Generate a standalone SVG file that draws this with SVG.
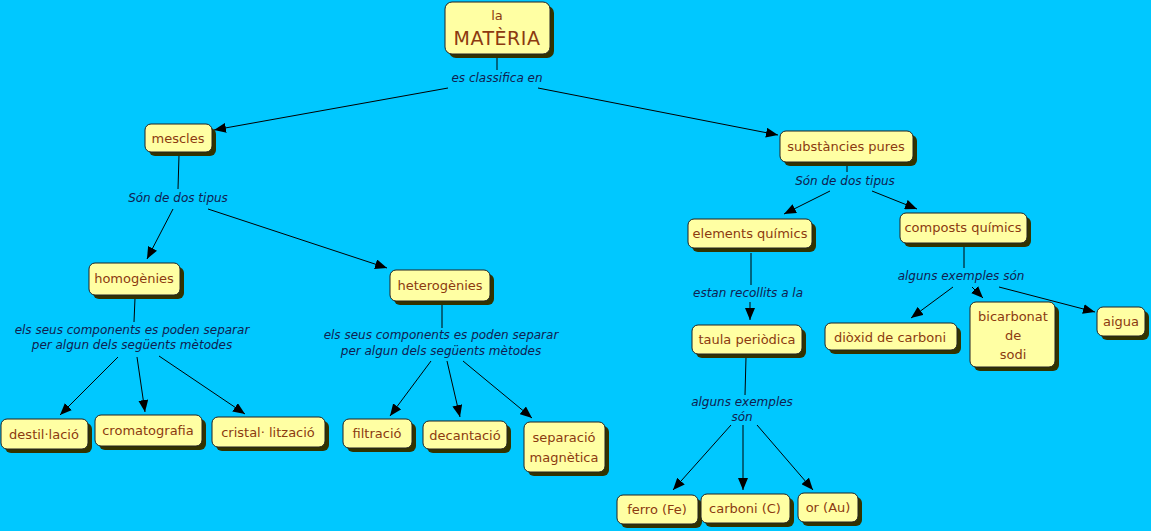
<svg xmlns="http://www.w3.org/2000/svg" width="1151" height="531" viewBox="0 0 1151 531">
<defs>
<marker id="ah" viewBox="0 0 12 10" refX="12" refY="5" markerWidth="12" markerHeight="10" markerUnits="userSpaceOnUse" orient="auto"><path d="M0,0 L12,5 L0,10 Z" fill="#000"/></marker>
<style>
.sh{fill:#333300}
.bx{fill:#FFFFA3;stroke:#222;stroke-width:1}
.t{font-family:"DejaVu Sans",Verdana,sans-serif;font-size:13px;fill:#8B3A10;text-anchor:middle}
.l{font-family:"DejaVu Sans",Verdana,sans-serif;font-size:12px;font-style:italic;fill:#102050;text-anchor:middle}
.c{stroke:#000;stroke-width:1;fill:none}
.a{stroke:#000;stroke-width:1;fill:none;marker-end:url(#ah)}
</style>
</defs>
<rect width="1151" height="531" fill="#00C8FF"/>
<g id="connectors">
<line class="c" x1="497" y1="55" x2="497" y2="70"/>
<line class="a" x1="448" y1="88" x2="214" y2="130"/>
<line class="a" x1="538" y1="88" x2="778" y2="135"/>
<line class="c" x1="179" y1="155" x2="178" y2="189"/>
<line class="a" x1="173" y1="209" x2="147" y2="259"/>
<line class="a" x1="208" y1="209" x2="387" y2="268"/>
<line class="c" x1="135" y1="298" x2="134" y2="322"/>
<line class="a" x1="118" y1="357" x2="60" y2="415"/>
<line class="a" x1="137" y1="357" x2="145" y2="412"/>
<line class="a" x1="159" y1="356" x2="245" y2="414"/>
<line class="c" x1="442" y1="305" x2="442" y2="328"/>
<line class="a" x1="431" y1="361" x2="390" y2="416"/>
<line class="a" x1="447" y1="361" x2="460" y2="417"/>
<line class="a" x1="463" y1="361" x2="532" y2="418"/>
<line class="c" x1="847" y1="165" x2="847" y2="172"/>
<line class="a" x1="830" y1="191" x2="784" y2="214"/>
<line class="a" x1="872" y1="191" x2="917" y2="209"/>
<line class="c" x1="751" y1="253" x2="751" y2="285"/>
<line class="a" x1="750" y1="302" x2="750" y2="320"/>
<line class="c" x1="964" y1="247" x2="964" y2="268"/>
<line class="a" x1="953" y1="287" x2="911" y2="318"/>
<line class="a" x1="972" y1="287" x2="983" y2="298"/>
<line class="a" x1="999" y1="287" x2="1095" y2="312"/>
<line class="c" x1="746" y1="357" x2="745" y2="395"/>
<line class="a" x1="731" y1="425" x2="673" y2="490"/>
<line class="a" x1="743" y1="425" x2="743" y2="490"/>
<line class="a" x1="757" y1="425" x2="813" y2="490"/>
</g>
<g id="labels">
<text class="l" x="497" y="82">es classifica en</text>
<text class="l" x="178" y="202">Són de dos tipus</text>
<text class="l" x="132" y="334">els seus components es poden separar</text>
<text class="l" x="132" y="349">per algun dels següents mètodes</text>
<text class="l" x="441" y="339">els seus components es poden separar</text>
<text class="l" x="441" y="355">per algun dels següents mètodes</text>
<text class="l" x="845" y="185">Són de dos tipus</text>
<text class="l" x="748" y="297">estan recollits a la</text>
<text class="l" x="961" y="280">alguns exemples són</text>
<text class="l" x="742" y="406">alguns exemples</text>
<text class="l" x="742" y="421">són</text>
</g>
<g id="n-materia"><rect class="sh" x="449" y="6" width="105" height="52" rx="7"/><rect class="bx" x="445" y="2" width="105" height="52" rx="7"/><text class="t" x="497" y="20">la</text><text class="t" x="497" y="45" style="font-size:19px;letter-spacing:0.5px">MATÈRIA</text></g>
<g id="n-mescles"><rect class="sh" x="149" y="128" width="67" height="28" rx="6"/><rect class="bx" x="145" y="124" width="67" height="28" rx="6"/><text class="t" x="178" y="143">mescles</text></g>
<g id="n-substancies"><rect class="sh" x="784" y="135" width="133" height="31" rx="6"/><rect class="bx" x="780" y="131" width="133" height="31" rx="6"/><text class="t" x="846" y="151">substàncies pures</text></g>
<g id="n-homogenies"><rect class="sh" x="93" y="267" width="91" height="32" rx="6"/><rect class="bx" x="89" y="263" width="91" height="32" rx="6"/><text class="t" x="134" y="283">homogènies</text></g>
<g id="n-heterogenies"><rect class="sh" x="394" y="274" width="100" height="31" rx="6"/><rect class="bx" x="390" y="270" width="100" height="31" rx="6"/><text class="t" x="440" y="290">heterogènies</text></g>
<g id="n-destil"><rect class="sh" x="5" y="423" width="87" height="30" rx="6"/><rect class="bx" x="1" y="419" width="87" height="30" rx="6"/><text class="t" x="44" y="439">destil·lació</text></g>
<g id="n-cromato"><rect class="sh" x="99" y="419" width="107" height="31" rx="6"/><rect class="bx" x="95" y="415" width="107" height="31" rx="6"/><text class="t" x="148" y="435">cromatografia</text></g>
<g id="n-cristal"><rect class="sh" x="216" y="421" width="113" height="30" rx="6"/><rect class="bx" x="212" y="417" width="113" height="30" rx="6"/><text class="t" x="268" y="437">cristal· lització</text></g>
<g id="n-filtracio"><rect class="sh" x="347" y="423" width="69" height="29" rx="6"/><rect class="bx" x="343" y="419" width="69" height="29" rx="6"/><text class="t" x="377" y="438">filtració</text></g>
<g id="n-decantacio"><rect class="sh" x="427" y="425" width="84" height="28" rx="6"/><rect class="bx" x="423" y="421" width="84" height="28" rx="6"/><text class="t" x="465" y="440">decantació</text></g>
<g id="n-separacio"><rect class="sh" x="528" y="426" width="81" height="50" rx="6"/><rect class="bx" x="524" y="422" width="81" height="50" rx="6"/><text class="t" x="564" y="442">separació</text><text class="t" x="564" y="462">magnètica</text></g>
<g id="n-elements"><rect class="sh" x="692" y="223" width="124" height="29" rx="6"/><rect class="bx" x="688" y="219" width="124" height="29" rx="6"/><text class="t" x="750" y="238">elements químics</text></g>
<g id="n-composts"><rect class="sh" x="904" y="217" width="127" height="30" rx="6"/><rect class="bx" x="900" y="213" width="127" height="30" rx="6"/><text class="t" x="963" y="232">composts químics</text></g>
<g id="n-taula"><rect class="sh" x="696" y="329" width="110" height="29" rx="6"/><rect class="bx" x="692" y="325" width="110" height="29" rx="6"/><text class="t" x="747" y="344">taula periòdica</text></g>
<g id="n-dioxid"><rect class="sh" x="829" y="327" width="132" height="27" rx="6"/><rect class="bx" x="825" y="323" width="132" height="27" rx="6"/><text class="t" x="890" y="342">diòxid de carboni</text></g>
<g id="n-bicarbonat"><rect class="sh" x="974" y="306" width="85" height="65" rx="6"/><rect class="bx" x="970" y="302" width="85" height="65" rx="6"/><text class="t" x="1013" y="321">bicarbonat</text><text class="t" x="1013" y="340">de</text><text class="t" x="1013" y="359">sodi</text></g>
<g id="n-aigua"><rect class="sh" x="1101" y="311" width="48" height="29" rx="6"/><rect class="bx" x="1097" y="307" width="48" height="29" rx="6"/><text class="t" x="1121" y="326">aigua</text></g>
<g id="n-ferro"><rect class="sh" x="621" y="499" width="81" height="29" rx="6"/><rect class="bx" x="617" y="495" width="81" height="29" rx="6"/><text class="t" x="657" y="514">ferro (Fe)</text></g>
<g id="n-carboni"><rect class="sh" x="705" y="498" width="89" height="29" rx="6"/><rect class="bx" x="701" y="494" width="89" height="29" rx="6"/><text class="t" x="745" y="513">carboni (C)</text></g>
<g id="n-or"><rect class="sh" x="802" y="497" width="60" height="29" rx="6"/><rect class="bx" x="798" y="493" width="60" height="29" rx="6"/><text class="t" x="828" y="512">or (Au)</text></g>
</svg>
